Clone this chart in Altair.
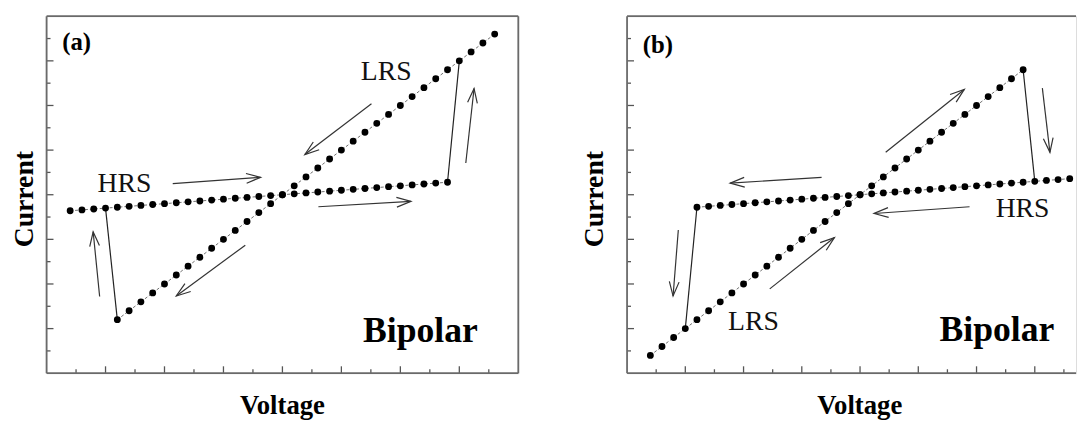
import math
import altair as alt
import pandas as pd

FONT = "Liberation Serif"

# ---------------- data ----------------
# panel (a)
a_hrs_v = [-3.6, -3.4, -3.2, -3.0, -2.8, -2.6, -2.4, -2.2, -2.0, -1.8, -1.6, -1.4, -1.2, -1.0, -0.8, -0.6, -0.4,
           -0.2, 0.0, 0.2, 0.4, 0.6, 0.8, 1.0, 1.2, 1.4, 1.6, 1.8, 2.0, 2.2, 2.4, 2.6, 2.8]
a_hrs_i = [-0.36, -0.34, -0.32, -0.30, -0.28, -0.26, -0.24, -0.22, -0.20, -0.18, -0.16, -0.14, -0.12, -0.10, -0.08,
           -0.06, -0.04, -0.02, 0.00, 0.02, 0.04, 0.06, 0.08, 0.10, 0.12, 0.14, 0.16, 0.18, 0.20, 0.22, 0.24, 0.26, 0.28]
a_lrs_v = [-2.8, -2.6, -2.4, -2.2, -2.0, -1.8, -1.6, -1.4, -1.2, -1.0, -0.8, -0.6, -0.4, -0.2, 0.0, 0.2, 0.4,
           0.6, 0.8, 1.0, 1.2, 1.4, 1.6, 1.8, 2.0, 2.2, 2.4, 2.6, 2.8, 3.0, 3.2, 3.4, 3.6]
a_lrs_i = [-2.8, -2.6, -2.4, -2.2, -2.0, -1.8, -1.6, -1.4, -1.2, -1.0, -0.8, -0.6, -0.4, -0.2, 0.0, 0.2, 0.4,
           0.6, 0.8, 1.0, 1.2, 1.4, 1.6, 1.8, 2.0, 2.2, 2.4, 2.6, 2.8, 3.0, 3.2, 3.4, 3.6]
# panel (b)
b_hrs_v = [-2.8, -2.6, -2.4, -2.2, -2.0, -1.8, -1.6, -1.4, -1.2, -1.0, -0.8, -0.6, -0.4, -0.2, 0.0, 0.2, 0.4,
           0.6, 0.8, 1.0, 1.2, 1.4, 1.6, 1.8, 2.0, 2.2, 2.4, 2.6, 2.8, 3.0, 3.2, 3.4, 3.6]
b_hrs_i = [-0.28, -0.26, -0.24, -0.22, -0.20, -0.18, -0.16, -0.14, -0.12, -0.10, -0.08, -0.06, -0.04, -0.02, 0.00,
           0.02, 0.04, 0.06, 0.08, 0.10, 0.12, 0.14, 0.16, 0.18, 0.20, 0.22, 0.24, 0.26, 0.28, 0.30, 0.32, 0.34, 0.36]
b_lrs_v = [-3.6, -3.4, -3.2, -3.0, -2.8, -2.6, -2.4, -2.2, -2.0, -1.8, -1.6, -1.4, -1.2, -1.0, -0.8, -0.6, -0.4,
           -0.2, 0.0, 0.2, 0.4, 0.6, 0.8, 1.0, 1.2, 1.4, 1.6, 1.8, 2.0, 2.2, 2.4, 2.6, 2.8]
b_lrs_i = [-3.6, -3.4, -3.2, -3.0, -2.8, -2.6, -2.4, -2.2, -2.0, -1.8, -1.6, -1.4, -1.2, -1.0, -0.8, -0.6, -0.4,
           -0.2, 0.0, 0.2, 0.4, 0.6, 0.8, 1.0, 1.2, 1.4, 1.6, 1.8, 2.0, 2.2, 2.4, 2.6, 2.8]

# switching jumps (from -> to)
a_sw_x1 = [2.8, -3.0]
a_sw_y1 = [0.28, -0.30]
a_sw_x2 = [3.0, -2.8]
a_sw_y2 = [3.0, -2.8]
b_sw_x1 = [2.8, -2.8]
b_sw_y1 = [2.8, -0.28]
b_sw_x2 = [3.0, -3.0]
b_sw_y2 = [0.30, -3.0]

# direction arrows (tail -> head)
a_ar_x1 = [-1.86, 0.61, 3.11, 1.51, -0.63, -3.10]
a_ar_y1 = [0.25, -0.27, 0.71, 2.04, -1.13, -2.28]
a_ar_x2 = [-0.37, 2.18, 3.25, 0.38, -1.80, -3.21]
a_ar_y2 = [0.39, -0.15, 2.38, 0.90, -2.27, -0.83]
b_ar_x1 = [0.44, 3.13, 1.88, -0.66, -3.12, -1.55]
b_ar_y1 = [0.95, 2.39, -0.27, 0.39, -0.79, -2.11]
b_ar_x2 = [1.79, 3.26, 0.24, -2.23, -3.21, -0.44]
b_ar_y2 = [2.36, 0.95, -0.42, 0.26, -2.27, -0.96]

# annotations
a_lab = ["(a)", "LRS", "HRS", "Bipolar"]
a_lab_x = [-3.49, 1.76, -2.68, 2.34]
a_lab_y = [3.42, 2.74, 0.24, -3.06]
b_lab = ["(b)", "HRS", "LRS", "Bipolar"]
b_lab_x = [-3.47, 2.79, -1.83, 2.35]
b_lab_y = [3.36, -0.33, -2.85, -3.04]
lab_size = [25, 28, 28, 36]
lab_bold = [True, False, False, True]

x_title = "Voltage"
y_title = "Current"

tick_major = [-3, -2, -1, 0, 1, 2, 3]
tick_minor = [-3.5, -2.5, -1.5, -0.5, 0.5, 1.5, 2.5, 3.5]

H = 361


def panel(hv, hi, lv, li, swx1, swy1, swx2, swy2, ax1, ay1, ax2, ay2,
          lab, labx, laby, W, xmax, ytitle_x, xtitle_x, right_edge):
    xs = alt.Scale(domain=[-4, xmax], nice=False, zero=False)
    ys = alt.Scale(domain=[-4, 4], nice=False, zero=False)
    sx = W / (xmax + 4)
    sy = H / 8.0

    curves = pd.DataFrame({
        "v": hv + lv, "i": hi + li,
        "s": ["HRS"] * len(hv) + ["LRS"] * len(lv),
    })
    sw = pd.DataFrame({"x1": swx1, "y1": swy1, "x2": swx2, "y2": swy2})
    ang = [(math.degrees(math.atan2(-(y2 - y1) * sy, (x2 - x1) * sx))) % 360
           for x1, y1, x2, y2 in zip(ax1, ay1, ax2, ay2)]
    ar = pd.DataFrame({"x1": ax1, "y1": ay1, "x2": ax2, "y2": ay2, "ang": ang})
    labs = pd.DataFrame({"t": lab, "x": labx, "y": laby, "fs": lab_size, "b": lab_bold})

    X = lambda f: alt.X(f, type="quantitative", scale=xs, axis=None)
    Y = lambda f: alt.Y(f, type="quantitative", scale=ys, axis=None)

    line = alt.Chart(curves).mark_line(color="#6f6f6f", strokeWidth=1, strokeDash=[3, 2]).encode(
        x=X("v"), y=Y("i"), detail="s:N")
    dots = alt.Chart(curves).mark_circle(color="black", size=48, opacity=1).encode(
        x=X("v"), y=Y("i"))
    jumps = alt.Chart(sw).mark_rule(color="#222222", strokeWidth=1.2).encode(
        x=X("x1"), y=Y("y1"), x2="x2:Q", y2="y2:Q")
    shafts = alt.Chart(ar).mark_rule(color="#333333", strokeWidth=1.2).encode(
        x=X("x1"), y=Y("y1"), x2="x2:Q", y2="y2:Q")
    heads = alt.Chart(ar).mark_point(
        shape="M-1,-0.34L0,0L-1,0.34", filled=False, size=840, strokeWidth=1.2,
        color="#333333", opacity=1).encode(
        x=X("x2"), y=Y("y2"), angle=alt.Angle("ang:Q", scale=None))
    txt_b = alt.Chart(labs).transform_filter("datum.b").mark_text(
        font=FONT, fontWeight="bold", color="black", align="center", baseline="middle").encode(
        x=X("x"), y=Y("y"), text="t:N", size=alt.Size("fs:Q", scale=None))
    txt_n = alt.Chart(labs).transform_filter("!datum.b").mark_text(
        font=FONT, color="#111111", align="center", baseline="middle").encode(
        x=X("x"), y=Y("y"), text="t:N", size=alt.Size("fs:Q", scale=None))

    # axis titles (outside the plot area)
    xt = alt.Chart(pd.DataFrame({"t": [x_title]})).mark_text(
        font=FONT, fontWeight="bold", fontSize=27, color="black", align="center",
        baseline="alphabetic").encode(text="t:N", x=alt.value(xtitle_x), y=alt.value(H + 41))
    yt = alt.Chart(pd.DataFrame({"t": [y_title]})).mark_text(
        font=FONT, fontWeight="bold", fontSize=28, color="black", align="center",
        baseline="alphabetic", angle=270).encode(text="t:N", x=alt.value(ytitle_x), y=alt.value(185))

    tmaj = pd.DataFrame({"t": tick_major})
    tmin = pd.DataFrame({"t": tick_minor})
    tc = "#555555"
    bx_maj = alt.Chart(tmaj).mark_rule(color=tc, strokeWidth=1.3).encode(
        x=X("t"), y=alt.value(H), y2=alt.value(H - 7))
    bx_min = alt.Chart(tmin).mark_rule(color=tc, strokeWidth=1.3).encode(
        x=X("t"), y=alt.value(H), y2=alt.value(H - 4))
    ly_maj = alt.Chart(tmaj).mark_rule(color=tc, strokeWidth=1.3).encode(
        y=Y("t"), x=alt.value(0), x2=alt.value(7))
    ly_min = alt.Chart(tmin).mark_rule(color=tc, strokeWidth=1.3).encode(
        y=Y("t"), x=alt.value(0), x2=alt.value(4))

    one = pd.DataFrame({"k": [0]})
    fc = "#6a6a6a"
    frame = [
        alt.Chart(one).mark_rule(color=fc, strokeWidth=1.8).encode(
            x=alt.value(0), x2=alt.value(W), y=alt.value(0)),
        alt.Chart(one).mark_rule(color=fc, strokeWidth=1.8).encode(
            x=alt.value(0), x2=alt.value(W), y=alt.value(H)),
        alt.Chart(one).mark_rule(color=fc, strokeWidth=1.8).encode(
            x=alt.value(0), y=alt.value(0), y2=alt.value(H)),
    ]
    if right_edge:
        frame.append(alt.Chart(one).mark_rule(color=fc, strokeWidth=1.8).encode(
            x=alt.value(W), y=alt.value(0), y2=alt.value(H)))

    return alt.layer(line, jumps, shafts, heads, dots, txt_b, txt_n, xt, yt,
                     bx_maj, bx_min, ly_maj, ly_min, *frame).properties(width=W, height=H)


pa = panel(a_hrs_v, a_hrs_i, a_lrs_v, a_lrs_i, a_sw_x1, a_sw_y1, a_sw_x2, a_sw_y2,
           a_ar_x1, a_ar_y1, a_ar_x2, a_ar_y2, a_lab, a_lab_x, a_lab_y,
           W=477, xmax=4.0, ytitle_x=-14, xtitle_x=238.5, right_edge=True)
pb = panel(b_hrs_v, b_hrs_i, b_lrs_v, b_lrs_i, b_sw_x1, b_sw_y1, b_sw_x2, b_sw_y2,
           b_ar_x1, b_ar_y1, b_ar_x2, b_ar_y2, b_lab, b_lab_x, b_lab_y,
           W=454, xmax=3.708, ytitle_x=-24.7, xtitle_x=235.3, right_edge=False)

chart = alt.hconcat(pa, pb, spacing=60).properties(
    padding={"left": 2, "top": 4, "right": 0, "bottom": 0}
).configure_view(strokeWidth=0, stroke="transparent").configure(background="white")

chart.save("out.html", embed_options={"renderer": "svg", "actions": False})
